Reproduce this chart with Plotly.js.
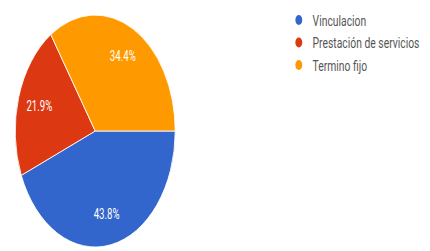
<!DOCTYPE html>
<html>
<head>
<meta charset="utf-8">
<script src="https://cdn.plot.ly/plotly-3.0.1.min.js"></script>
<style>
  html, body { margin: 0; padding: 0; overflow: hidden; background: #fff; }
  #wrap { width: 430px; height: 251px; overflow: hidden; }
  #plot { width: 623px; height: 251px; transform: scaleX(0.69); transform-origin: 0 0; }
</style>
</head>
<body>
<div id="wrap"><div id="plot"></div></div>
<script>
const categories = ["Vinculacion", "Prestación de servicios", "Termino fijo"];
const percentages = [43.8, 21.9, 34.4];
const colors = ["#3366CC", "#DC3912", "#FF9900"];

const pieDomain = { x: [0.035, 0.408], y: [0.016, 0.94] };

// Filled pie (no text)
const pie = {
  type: "pie",
  labels: categories,
  values: percentages,
  sort: false,
  direction: "clockwise",
  rotation: 90,
  marker: { colors: colors, line: { color: "#ffffff", width: 1 } },
  textinfo: "none",
  hoverinfo: "label+percent",
  showlegend: false,
  domain: pieDomain
};

// Transparent ring on top, only to place the percentage labels further out
const labelRing = {
  type: "pie",
  labels: categories,
  values: percentages,
  sort: false,
  direction: "clockwise",
  rotation: 90,
  hole: 0.46,
  marker: { colors: categories.map(() => "rgba(0,0,0,0)"), line: { width: 0 } },
  texttemplate: "%{value}%",
  textposition: "inside",
  insidetextorientation: "horizontal",
  textfont: { color: "#ffffff", size: 14, family: "Roboto, Arial, sans-serif" },
  hoverinfo: "skip",
  showlegend: false,
  domain: pieDomain
};

const legendTraces = categories.map((c, i) => ({
  type: "scatter",
  mode: "markers",
  x: [null], y: [null],
  name: c,
  legendgroup: "g" + i,
  marker: { color: colors[i], size: 10, symbol: "circle" },
  showlegend: true,
  hoverinfo: "skip"
}));

const layout = {
  width: 623, height: 251,
  margin: { l: 0, r: 0, t: 0, b: 0 },
  paper_bgcolor: "#ffffff",
  plot_bgcolor: "#ffffff",
  xaxis: { visible: false },
  yaxis: { visible: false },
  showlegend: true,
  legend: {
    x: 0.663, y: 0.985, xanchor: "left", yanchor: "top",
    font: { size: 15, color: "#555555", family: "Roboto, Arial, sans-serif" },
    tracegroupgap: 0,
    bgcolor: "rgba(0,0,0,0)",
    itemclick: false, itemdoubleclick: false
  }
};

Plotly.newPlot("plot", [pie, labelRing].concat(legendTraces), layout, { displayModeBar: false, staticPlot: true });
</script>
</body>
</html>
